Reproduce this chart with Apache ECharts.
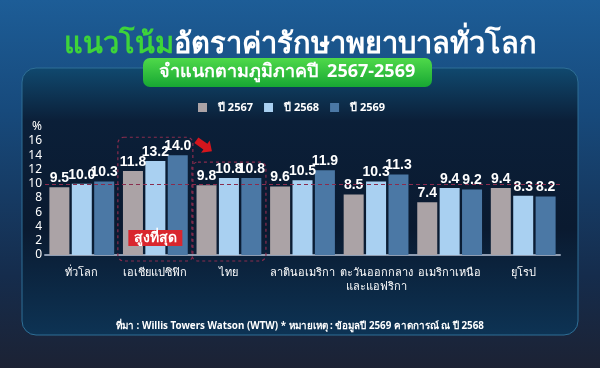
<!DOCTYPE html>
<html><head><meta charset="utf-8">
<script src="https://cdn.jsdelivr.net/npm/echarts@6/dist/echarts.min.js"></script>
<style>
html,body{margin:0;padding:0;}
#c{width:600px;height:368px;background:linear-gradient(180deg,#1d5d97 0%,#174a7c 30%,#152c4c 75%,#1c2234 100%);}
</style></head><body>
<div id="c"></div>
<script>
const categories = ['ทั่วโลก','เอเชียแปซิฟิก','ไทย','ลาตินอเมริกา','ตะวันออกกลาง\nและแอฟริกา','อเมริกาเหนือ','ยุโรป'];
const seriesNames = ['ปี 2567','ปี 2568','ปี 2569'];
const y2567 = [9.5, 11.8, 9.8, 9.6, 8.5, 7.4, 9.4];
const y2568 = [10.0, 13.2, 10.8, 10.5, 10.3, 9.4, 8.3];
const y2569 = [10.3, 14.0, 10.8, 11.9, 11.3, 9.2, 8.2];
const yTicks = [0,2,4,6,8,10,12,14,16];
const refLine = 10;
const colors = ['#aba3a6','#a9d0f1','#4b78a5'];
const FONT = "'Noto Sans', 'DejaVu Sans', sans-serif";
const NUMFONT = "'Liberation Sans Narrow', 'Liberation Sans', sans-serif";

const chart = echarts.init(document.getElementById('c'), null, {renderer:'canvas'});
const label = {show:true, position:'top', distance:2, color:'#ffffff', fontWeight:'bold', fontSize:14, fontFamily:NUMFONT, formatter:p=>p.value.toFixed(1)};
function mk(name, data, i, extra){
  return Object.assign({type:'bar', name, data, barWidth:20, barGap:'12%', itemStyle:{color:colors[i]}, label}, extra||{});
}
chart.setOption({
  animation:false,
  textStyle:{fontFamily:FONT},
  title:[
    {text:'{g|แนวโน้ม}{w|อัตราค่ารักษาพยาบาลทั่วโลก}', left:'center', top:25,
     textStyle:{rich:{g:{color:'#3dd43a',fontSize:29,fontWeight:'bold',fontFamily:FONT},w:{color:'#ffffff',fontSize:29,fontWeight:'bold',fontFamily:FONT}}}},
    {text:'ที่มา : Willis Towers Watson (WTW) * หมายเหตุ : ข้อมูลปี 2569 คาดการณ์ ณ ปี 2568', left:'center', top:316,
     textStyle:{color:'#ffffff',fontSize:9.8,fontWeight:'bold',fontFamily:FONT}}
  ],
  legend:{top:97, left:193, itemWidth:9, itemHeight:9, itemGap:11, icon:'rect',
    textStyle:{color:'#ffffff',fontSize:11,fontWeight:'bold',fontFamily:FONT,padding:[0,0,0,6]}, data:seriesNames},
  grid:{left:45, right:40, top:141, bottom:113, containLabel:false},
  xAxis:{type:'category', data:categories,
    axisLine:{lineStyle:{color:'#8f9db2',width:2}}, axisTick:{show:false},
    axisLabel:{color:'#ffffff',fontSize:11,margin:11,lineHeight:14,interval:0,fontFamily:FONT}},
  yAxis:{type:'value', min:yTicks[0], max:yTicks[yTicks.length-1], interval:2,
    name:'%', nameLocation:'end', nameGap:8, nameTextStyle:{color:'#ffffff',fontSize:12,align:'right',padding:[0,3,0,0]},
    axisLine:{show:false}, axisTick:{show:false}, splitLine:{show:false},
    axisLabel:{color:'#ffffff',fontSize:12,margin:3,fontFamily:FONT}},
  series:[
    mk(seriesNames[0], y2567, 0, {markLine:{silent:true, symbol:'none', label:{show:false},
      lineStyle:{color:'#8a2c4e',type:[4,3],width:1}, data:[{yAxis:refLine}]}}),
    mk(seriesNames[1], y2568, 1),
    mk(seriesNames[2], y2569, 2)
  ]
});

function px(cat, val){ return chart.convertToPixel({xAxisIndex:0,yAxisIndex:0},[cat,val]); }
const base = px(categories[0],0)[1];
const aC = px(categories[1],0)[0];
const tC = px(categories[2],0)[0];
const aTop = px(categories[1], Math.max(y2567[1],y2568[1],y2569[1]))[1]-18;
const tTop = px(categories[2], Math.max(y2567[2],y2568[2],y2569[2]))[1]-16;
const dash = {stroke:'#8a2c4e', lineWidth:1.2, lineDash:[3,3], fill:null};
chart.setOption({graphic:[
  {type:'rect', z:-10, silent:true, shape:{x:22,y:68,width:556,height:267,r:14},
   style:{fill:new echarts.graphic.LinearGradient(0,0,0,1,[{offset:0,color:'#10496f'},{offset:0.2,color:'#0b1f38'},{offset:0.6,color:'#0a1a30'},{offset:1,color:'#0d3354'}]),
          stroke:'#2f6f96', lineWidth:1}},
  {type:'rect', z:5, shape:{x:143,y:58,width:289,height:29,r:7},
   style:{fill:new echarts.graphic.LinearGradient(0,0,0,1,[{offset:0,color:'#4fd94a'},{offset:1,color:'#17a733'}])}},
  {type:'text', z:6, x:287, y:72, style:{text:'จำแนกตามภูมิภาคปี  2567-2569', fill:'#ffffff', font:"bold 18px "+FONT, align:'center', verticalAlign:'middle'}},
  {type:'rect', z:4, shape:{x:aC-37.5,y:aTop,width:75,height:base+6-aTop,r:6}, style:dash},
  {type:'rect', z:4, shape:{x:tC-37,y:tTop,width:74,height:base+6-tTop,r:6}, style:dash},
  {type:'rect', z:6, shape:{x:aC-27,y:base-25,width:54,height:16}, style:{fill:'#d9262e'}},
  {type:'text', z:7, x:aC, y:base-17, style:{text:'สูงที่สุด', fill:'#ffffff', font:"bold 14px "+FONT, align:'center', verticalAlign:'middle'}},
  {type:'polygon', z:6, x:aC+41, y:aTop+3, rotation:-35*Math.PI/180,
   shape:{points:[[0,-3.5],[11,-3.5],[11,-7.5],[19,0],[11,7.5],[11,3.5],[0,3.5]]}, style:{fill:'#d4161d'}}
]});
</script></body></html>
